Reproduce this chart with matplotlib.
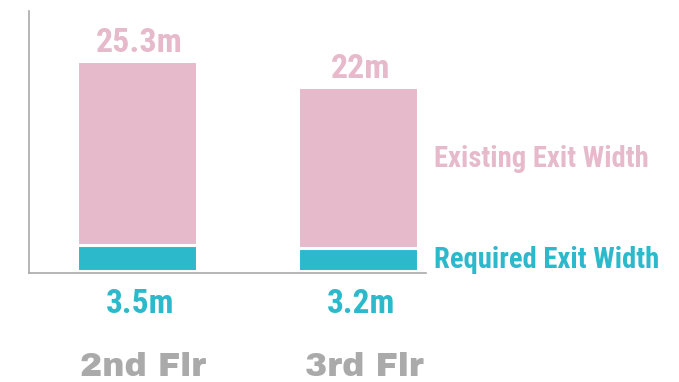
import matplotlib.pyplot as plt
import numpy as np

floors = ['2nd Flr', '3rd Flr']
required = [3.5, 3.2]
existing = [25.3, 22]
required_labels = ['3.5m', '3.2m']
existing_labels = ['25.3m', '22m']

pink = '#e6bacb'
teal = '#2db9cc'
grey = '#aaaaaa'
narrow = 'Roboto Condensed'

fig = plt.figure(figsize=(6.79, 3.82), dpi=100)
ax = fig.add_axes([0.0427, 0.2846, 0.5847, 0.6866])

x = np.arange(len(floors))
bar_w = 0.543
ax.bar(x, required, bar_w, color=teal, edgecolor='white', linewidth=2.2)
ax.bar(x, existing, bar_w, bottom=required, color=pink, edgecolor='white', linewidth=2.2)

ax.set_xlim(-0.49, 1.307)
ax.set_ylim(-0.32, 35.6)

for i in range(len(floors)):
    top = required[i] + existing[i]
    ax.annotate(existing_labels[i], xy=(x[i], top), xytext=(2, 9), textcoords='offset pixels',
                ha='center', va='baseline', color=pink, fontsize=24.5,
                fontfamily=narrow, fontweight='bold')
    ax.annotate(required_labels[i], xy=(x[i], 0), xytext=(3, -42), textcoords='offset pixels',
                ha='center', va='baseline', color=teal, fontsize=24,
                fontfamily=narrow, fontweight='bold')
    ax.annotate(floors[i], xy=(x[i], 0), xytext=(6, -105), textcoords='offset pixels',
                ha='center', va='baseline', color=grey, fontsize=24,
                fontfamily='Archivo Black')

# series names to the right of the last bar
ax.text(1.343, 14.25, 'Existing Exit Width', color=pink, fontsize=20.6,
        fontfamily=narrow, fontweight='bold', va='baseline')
ax.text(1.343, 0.41, 'Required Exit Width', color=teal, fontsize=20.6,
        fontfamily=narrow, fontweight='bold', va='baseline')

for side in ['top', 'right']:
    ax.spines[side].set_visible(False)
for side in ['left', 'bottom']:
    ax.spines[side].set_color(grey)
    ax.spines[side].set_linewidth(1.2)
ax.set_xticks([])
ax.set_yticks([])

fig.savefig('out.png', dpi=100)
